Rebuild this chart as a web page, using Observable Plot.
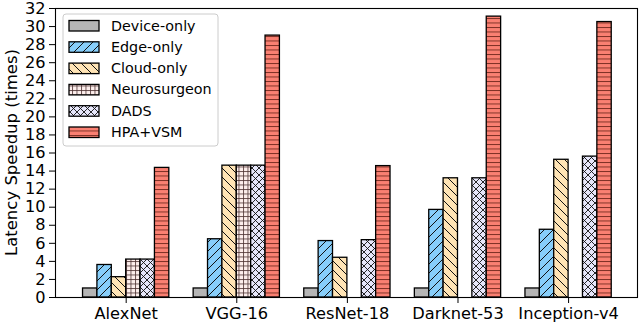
<!DOCTYPE html>
<html>
<head>
<meta charset="utf-8">
<script src="https://cdn.jsdelivr.net/npm/d3@7"></script>
<script src="https://cdn.jsdelivr.net/npm/@observablehq/plot@0.6"></script>
<style>
  html, body { margin: 0; padding: 0; background: white; }
</style>
</head>
<body>
<div id="chart"></div>
<script>
// ---- data ----
const models = ["AlexNet", "VGG-16", "ResNet-18", "Darknet-53", "Inception-v4"];
const seriesNames = ["Device-only", "Edge-only", "Cloud-only", "Neurosurgeon", "DADS", "HPA+VSM"];
const deviceOnly   = [1.0, 1.0, 1.0, 1.0, 1.0];
const edgeOnly     = [3.6, 6.45, 6.25, 9.7, 7.5];
const cloudOnly    = [2.25, 14.6, 4.4, 13.2, 15.25];
const neurosurgeon = [4.2, 14.6, null, null, null];
const dads         = [4.2, 14.6, 6.35, 13.2, 15.6];
const hpaVsm       = [14.35, 29.0, 14.55, 31.1, 30.5];
const yTicks = [0, 2, 4, 6, 8, 10, 12, 14, 16, 18, 20, 22, 24, 26, 28, 30, 32];

const seriesValues = [deviceOnly, edgeOnly, cloudOnly, neurosurgeon, dads, hpaVsm];
const patternIds = ["p-dev", "p-edge", "p-cloud", "p-neuro", "p-dads", "p-hpa"];
const W = 0.13;

const rows = [];
seriesValues.forEach((vals, k) => {
  vals.forEach((v, i) => {
    if (v != null) rows.push({model: i, k, value: v});
  });
});

const marks = seriesNames.map((name, k) =>
  Plot.rectY(rows.filter(d => d.k === k), {
    x1: d => d.model + (d.k - 3) * W,
    x2: d => d.model + (d.k - 2) * W,
    y1: 0,
    y2: "value",
    fill: `url(#${patternIds[k]})`,
    stroke: "black",
    strokeWidth: 1.3
  })
);

const svg = Plot.plot({
  width: 640,
  height: 324,
  marginLeft: 55,
  marginRight: 3,
  marginTop: 8,
  marginBottom: 27,
  style: {background: "white", fontFamily: "DejaVu Sans", fontSize: "16.2px", color: "black", overflow: "visible"},
  x: {type: "linear", domain: [-0.639, 4.623], ticks: [0, 1, 2, 3, 4], tickFormat: i => models[i], tickSize: 6, tickPadding: 4, label: null},
  y: {domain: [0, 32], ticks: yTicks, tickSize: 6, tickPadding: 4, label: null},
  marks: [
    ...marks,
    Plot.frame({stroke: "black", strokeWidth: 1.1})
  ]
});

// ---- patterns ----
const sel = d3.select(svg);
const defs = sel.insert("defs", ":first-child");
function pattern(id, w, h, bg, draw) {
  const p = defs.append("pattern").attr("id", id).attr("patternUnits", "userSpaceOnUse")
    .attr("width", w).attr("height", h);
  p.append("rect").attr("width", w).attr("height", h).attr("fill", bg);
  if (draw) draw(p);
}
pattern("p-dev", 4, 4, "#b5b5b5", null);
pattern("p-edge", 9, 9, "#87cefa", p => p.append("path")
  .attr("d", "M0,9L9,0M-2,2L2,-2M7,11L11,7").attr("stroke", "#111").attr("stroke-width", 1));
pattern("p-cloud", 9, 9, "#ffe4b5", p => p.append("path")
  .attr("d", "M0,0L9,9M-2,7L2,11M7,-2L11,2").attr("stroke", "#111").attr("stroke-width", 1));
pattern("p-neuro", 4.5, 4.5, "#fdeeec", p => p.append("path")
  .attr("d", "M0.5,0V4.5M0,0.5H4.5").attr("stroke", "#4a3030").attr("stroke-width", 0.8));
pattern("p-dads", 7, 7, "#e6e6fa", p => p.append("path")
  .attr("d", "M0,0L7,7M7,0L0,7").attr("stroke", "#111").attr("stroke-width", 0.9));
pattern("p-hpa", 10, 4.5, "#fa8072", p => p.append("path")
  .attr("d", "M0,0.5H10").attr("stroke", "#5a1a10").attr("stroke-width", 0.8));

// ---- y label ----
sel.append("text")
  .attr("transform", `translate(11,${(8 + 297) / 2}) rotate(-90)`)
  .attr("text-anchor", "middle")
  .attr("dominant-baseline", "central")
  .attr("font-family", "DejaVu Sans")
  .attr("font-size", 16.5)
  .attr("fill", "black")
  .text("Latency Speedup (times)");

// ---- legend ----
const lg = sel.append("g").attr("font-family", "DejaVu Sans").attr("font-size", 14.3)
  .attr("text-anchor", "start");
lg.append("rect").attr("x", 63).attr("y", 14).attr("width", 155).attr("height", 132).attr("rx", 3)
  .attr("fill", "white").attr("fill-opacity", 0.8).attr("stroke", "#cccccc");
seriesNames.forEach((name, k) => {
  const cy = 25.5 + k * 21.3;
  lg.append("rect").attr("x", 69).attr("y", cy - 5).attr("width", 30).attr("height", 10.5)
    .attr("fill", `url(#${patternIds[k]})`).attr("stroke", "black").attr("stroke-width", 1.3);
  lg.append("text").attr("x", 111).attr("y", cy).attr("dominant-baseline", "central")
    .attr("text-anchor", "start").attr("fill", "black").text(name);
});

document.getElementById("chart").appendChild(svg);
</script>
</body>
</html>
